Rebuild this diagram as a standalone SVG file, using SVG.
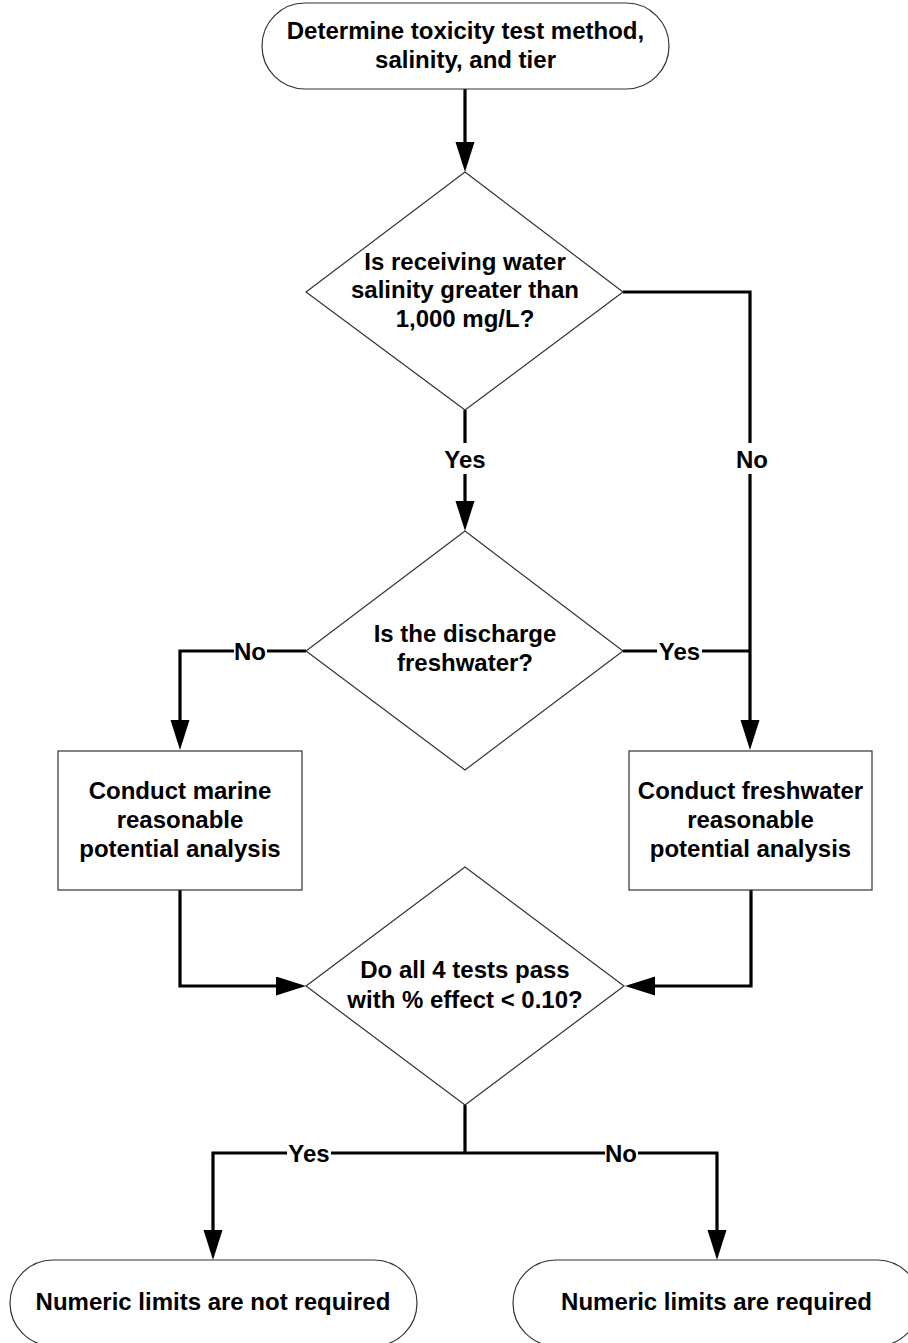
<svg xmlns="http://www.w3.org/2000/svg" width="908" height="1343" viewBox="0 0 908 1343">
<style>
.shape{fill:#fff;stroke:#333;stroke-width:1.2}
.conn{fill:none;stroke:#000;stroke-width:3.2}
.t{font-family:"Liberation Sans",Arial,sans-serif;font-weight:bold;font-size:24px;fill:#000;text-anchor:middle}
.bg{fill:#fff;stroke:none}
</style>
<defs>
<marker id="arr" markerUnits="userSpaceOnUse" markerWidth="30" markerHeight="20" refX="15" refY="9.5" orient="auto">
<path d="M0,0 L30,9.5 L0,19 Z" fill="#000"/>
</marker>
</defs>

<g id="connectors">
<path class="conn" d="M465,89 V157" marker-end="url(#arr)"/>
<path class="conn" d="M465,410 V516" marker-end="url(#arr)"/>
<path class="conn" d="M623,292 H750 V735" marker-end="url(#arr)"/>
<path class="conn" d="M623,651 H750"/>
<path class="conn" d="M306,651 H180 V735" marker-end="url(#arr)"/>
<path class="conn" d="M180,890 V986 H291" marker-end="url(#arr)"/>
<path class="conn" d="M751,890 V986 H640" marker-end="url(#arr)"/>
<path class="conn" d="M465,1105 V1153"/>
<path class="conn" d="M465,1153 H213 V1245" marker-end="url(#arr)"/>
<path class="conn" d="M465,1153 H717 V1245" marker-end="url(#arr)"/>
<g id="labels">
<rect class="bg" x="441" y="443" width="48" height="31"/>
<text class="t" x="465" y="468">Yes</text>
<rect class="bg" x="734" y="443" width="36" height="31"/>
<text class="t" x="752" y="468">No</text>
<rect class="bg" x="234" y="640" width="33" height="22"/>
<text class="t" x="250" y="660">No</text>
<rect class="bg" x="657" y="640" width="45" height="22"/>
<text class="t" x="679.5" y="660">Yes</text>
<rect class="bg" x="287" y="1142" width="44" height="22"/>
<text class="t" x="309" y="1162">Yes</text>
<rect class="bg" x="605" y="1142" width="33" height="22"/>
<text class="t" x="621" y="1162">No</text>
</g>
</g>

<g id="start">
<rect class="shape" x="262" y="3" width="407" height="86" rx="43" ry="43"/>
<text class="t" x="465.5" y="39">Determine toxicity test method,</text>
<text class="t" x="465.5" y="68">salinity, and tier</text>
</g>

<g id="decision-salinity">
<polygon class="shape" points="465,172 623,292 465,410 306,292"/>
<text class="t" x="465" y="270">Is receiving water</text>
<text class="t" x="465" y="298">salinity greater than</text>
<text class="t" x="465" y="327">1,000 mg/L?</text>
</g>

<g id="decision-discharge">
<polygon class="shape" points="465,531 623,651 465,770 306,651"/>
<text class="t" x="465" y="642">Is the discharge</text>
<text class="t" x="465" y="671">freshwater?</text>
</g>

<g id="marine-box">
<rect class="shape" x="58" y="751" width="244" height="139"/>
<text class="t" x="180" y="799">Conduct marine</text>
<text class="t" x="180" y="828">reasonable</text>
<text class="t" x="180" y="857">potential analysis</text>
</g>

<g id="freshwater-box">
<rect class="shape" x="629" y="751" width="243" height="139"/>
<text class="t" x="750.5" y="799">Conduct freshwater</text>
<text class="t" x="750.5" y="828">reasonable</text>
<text class="t" x="750.5" y="857">potential analysis</text>
</g>

<g id="decision-tests">
<polygon class="shape" points="465,867 624,986 465,1105 306,986"/>
<text class="t" x="465" y="978">Do all 4 tests pass</text>
<text class="t" x="465" y="1008">with % effect &lt; 0.10?</text>
</g>

<g id="end-not-required">
<rect class="shape" x="10" y="1260" width="407" height="86" rx="43" ry="43"/>
<text class="t" x="213" y="1310">Numeric limits are not required</text>
</g>

<g id="end-required">
<rect class="shape" x="513" y="1260" width="407" height="86" rx="43" ry="43"/>
<text class="t" x="716.5" y="1310">Numeric limits are required</text>
</g>
</svg>
